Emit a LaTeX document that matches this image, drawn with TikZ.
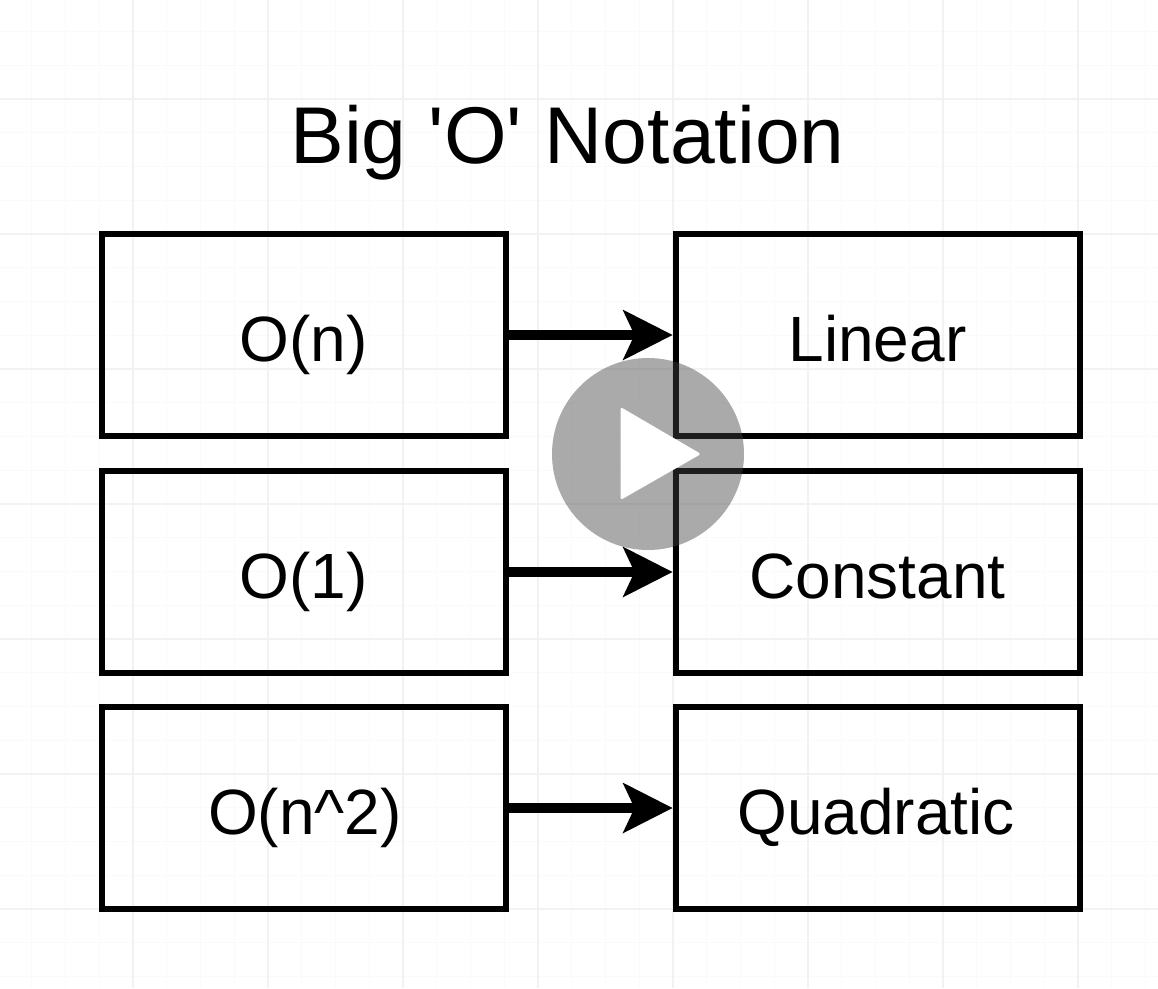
\documentclass[tikz,border=0pt]{standalone}
\usepackage{fontspec}
\setmainfont{Liberation Sans}
\newfontfamily\plainsans{Liberation Sans}
\usetikzlibrary{arrows.meta}
\definecolor{gridminor}{gray}{0.98}
\definecolor{gridmajor}{gray}{0.95}
\definecolor{playfill}{gray}{0.263}
\tikzset{
  box/.style={draw=black,line width=6pt,fill=none,minimum width=404pt,minimum height=202pt,inner sep=0pt,
    font=\plainsans\fontsize{64}{64}\selectfont,text height=52pt,text depth=0pt},
  flow/.style={line width=9.5pt,-{Stealth[length=50pt,width=51pt,inset=12pt,line width=0pt]}},
  title/.style={inner sep=0pt,font=\plainsans\fontsize{80.5}{80.5}\selectfont,anchor=base},
  gridmin/.style={draw=gridminor,line width=1.2pt},
  gridmaj/.style={draw=gridmajor,line width=1.6pt}
}
\begin{document}
\begin{tikzpicture}[x=1pt,y=-1pt]
\useasboundingbox (0,0) rectangle (1158,988);
\fill[white] (0,0) rectangle (1158,988);
% canvas grid
\foreach \k in {0,...,34} {
  \pgfmathsetmacro{\gx}{31.75+33.75*\k}
  \draw[gridmin] (\gx,0) -- (\gx,988);
}
\foreach \k in {0,...,29} {
  \pgfmathsetmacro{\gy}{31.5+33.75*\k}
  \draw[gridmin] (0,\gy) -- (1158,\gy);
}
\foreach \k in {0,...,7} {
  \pgfmathsetmacro{\gx}{133+135*\k}
  \draw[gridmaj] (\gx,0) -- (\gx,988);
}
\foreach \k in {0,...,6} {
  \pgfmathsetmacro{\gy}{99+135*\k}
  \draw[gridmaj] (0,\gy) -- (1158,\gy);
}
\node[title] (head) at (567.5,163) {Big 'O' Notation};
\node[box] (on) at (303.5,335) {O(n)};
\node[box] (o1) at (303.5,572) {O(1)};
\node[box] (on2) at (303.5,808) {\kern3pt O(n\^{}2)};
\node[box] (lin) at (877.5,335) {Linear};
\node[box] (con) at (877.5,572) {Constant};
\node[box] (qua) at (877.5,808) {Quadratic\kern3pt};
\draw[flow] (on) -- (lin);
\draw[flow] (o1) -- (con);
\draw[flow] (on2) -- (qua);
% video play overlay
\node[circle,fill=playfill,fill opacity=0.447,draw=none,minimum size=192pt,inner sep=0pt] (play) at (648,454) {};
\fill[white,rounded corners=2.5pt] (620.5,407) -- (620.5,500) -- (701,454) -- cycle;
\end{tikzpicture}
\end{document}
